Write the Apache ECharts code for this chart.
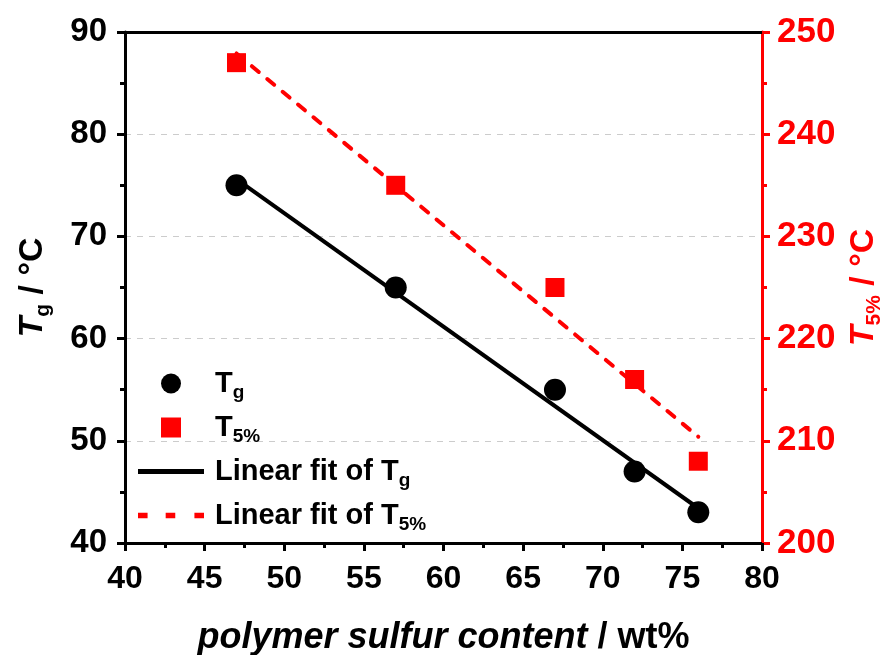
<!DOCTYPE html>
<html>
<head>
<meta charset="utf-8">
<script src="https://cdn.jsdelivr.net/npm/echarts@6/dist/echarts.min.js"></script>
<style>
  html, body { margin: 0; padding: 0; background: #fff; }
  #chart { width: 885px; height: 655px; }
</style>
</head>
<body>
<div id="chart"></div>
<script>
// Polymer sulfur content (wt%)
const sulfurContent = [47, 57, 67, 72, 76];
// Glass transition temperature Tg (°C)
const tgValues = [75, 65, 55, 47, 43];
// 5% weight-loss temperature T5% (°C)
const t5Values = [247, 235, 225, 216, 208];
// Linear fit end points (x, y)
const tgFitX = [47, 76];
const tgFitY = [75.6, 43.4];
const t5FitX = [47, 76];
const t5FitY = [247.9, 210.4];

const FONT = '"Liberation Sans", Arial, sans-serif';
const RED = '#ff0000';

const pairs = (xs, ys) => xs.map((x, i) => [x, ys[i]]);

// Rich-text styles: bold, bold-italic and a lowered subscript
const subRich = (color, size, subSize) => ({
  b: { fontFamily: FONT, fontWeight: 'bold', fontSize: size, color: color },
  bi: { fontFamily: FONT, fontWeight: 'bold', fontStyle: 'italic', fontSize: size, color: color },
  s: { fontFamily: FONT, fontWeight: 'bold', fontSize: subSize, color: color, verticalAlign: 'bottom', padding: [0, 0, -Math.round(size * 0.13), 0] }
});

const chart = echarts.init(document.getElementById('chart'), null, { renderer: 'canvas' });

const legendNames = {
  'Tg': '{b|T}{s|g}',
  'T5%': '{b|T}{s|5%}',
  'Linear fit of Tg': '{b|Linear fit of T}{s|g}',
  'Linear fit of T5%': '{b|Linear fit of T}{s|5%}'
};

// Legend icons
const SQUARE_ICON = 'path://M0,0H10V10H0Z';
const SOLID_ICON = 'path://M0,0H66V5H0Z';
const DASH_ICON = 'path://M0,0H9V5H0Z M26,0H35V5H26Z M53,0H62V5H53Z';

chart.setOption({
  animation: false,
  backgroundColor: '#ffffff',
  grid: { left: 125, right: 123, top: 32, bottom: 112, containLabel: false, outerBoundsMode: 'none' },
  legend: {
    orient: 'vertical',
    left: 133,
    top: 364,
    itemWidth: 66,
    itemHeight: 20,
    itemGap: 11,
    symbolKeepAspect: true,
    data: [
      { name: 'Tg', icon: 'circle' },
      { name: 'T5%', icon: SQUARE_ICON, itemStyle: { color: RED } },
      { name: 'Linear fit of Tg', icon: SOLID_ICON, itemStyle: { color: '#000' } },
      { name: 'Linear fit of T5%', icon: DASH_ICON, itemStyle: { color: RED } }
    ],
    formatter: name => legendNames[name],
    textStyle: { fontFamily: FONT, fontSize: 29, fontWeight: 'bold', color: '#000', padding: [0, 0, 0, 6], rich: subRich('#000', 29, 19) }
  },
  xAxis: [{
    type: 'value',
    min: 40, max: 80, interval: 5,
    position: 'bottom',
    name: '{bi|polymer sulfur content}{b| / wt%}',
    nameLocation: 'middle',
    nameGap: 77,
    nameTextStyle: { rich: subRich('#000', 36, 22) },
    axisLine: { show: true, onZero: false, lineStyle: { color: '#000', width: 3 } },
    axisTick: { show: true, inside: false, length: 8, lineStyle: { color: '#000', width: 3 } },
    minorTick: { show: true, splitNumber: 2, length: 5, lineStyle: { color: '#000', width: 3 } },
    axisLabel: { fontFamily: FONT, fontSize: 32, fontWeight: 'bold', color: '#000', margin: 20 },
    splitLine: { show: false }
  }, {
    type: 'value',
    min: 40, max: 80, interval: 5,
    position: 'top',
    axisLine: { show: true, onZero: false, lineStyle: { color: '#000', width: 3 } },
    axisTick: { show: false },
    axisLabel: { show: false },
    splitLine: { show: false }
  }],
  yAxis: [{
    type: 'value',
    min: 40, max: 90, interval: 10,
    position: 'left',
    name: '{bi|T}{s|g}{b| / °C}',
    nameLocation: 'middle',
    nameRotate: 90,
    nameGap: 75,
    nameTextStyle: { rich: subRich('#000', 34, 21) },
    axisLine: { show: true, onZero: false, lineStyle: { color: '#000', width: 3 } },
    axisTick: { show: true, inside: false, length: 8, lineStyle: { color: '#000', width: 3 } },
    minorTick: { show: true, splitNumber: 2, length: 5, lineStyle: { color: '#000', width: 3 } },
    axisLabel: { fontFamily: FONT, fontSize: 33, fontWeight: 'bold', color: '#000', margin: 18 },
    splitLine: { show: true, showMinLine: false, showMaxLine: false, lineStyle: { color: '#cccccc', width: 1, type: [6, 6] } }
  }, {
    type: 'value',
    min: 200, max: 250, interval: 10,
    position: 'right',
    name: '{bi|T}{s|5%}{b| / °C}',
    nameLocation: 'middle',
    nameRotate: 90,
    nameGap: 85,
    nameTextStyle: { rich: subRich(RED, 34, 21) },
    axisLine: { show: true, onZero: false, lineStyle: { color: RED, width: 3 } },
    axisTick: { show: true, inside: false, length: 8, lineStyle: { color: RED, width: 3 } },
    minorTick: { show: true, splitNumber: 2, length: 5, lineStyle: { color: RED, width: 3 } },
    axisLabel: { fontFamily: FONT, fontSize: 35, fontWeight: 'bold', color: RED, margin: 15 },
    splitLine: { show: false }
  }],
  series: [{
    name: 'Tg',
    type: 'scatter',
    xAxisIndex: 0, yAxisIndex: 0,
    data: pairs(sulfurContent, tgValues),
    symbol: 'circle',
    symbolSize: 22,
    itemStyle: { color: '#000', opacity: 1 },
    z: 2
  }, {
    name: 'T5%',
    type: 'scatter',
    xAxisIndex: 0, yAxisIndex: 1,
    data: pairs(sulfurContent, t5Values),
    symbol: 'rect',
    symbolSize: 19,
    itemStyle: { color: RED, opacity: 1 },
    z: 2
  }, {
    name: 'Linear fit of Tg',
    type: 'line',
    xAxisIndex: 0, yAxisIndex: 0,
    data: pairs(tgFitX, tgFitY),
    symbol: 'none',
    lineStyle: { color: '#000', width: 4 },
    itemStyle: { color: '#000' },
    z: 3
  }, {
    name: 'Linear fit of T5%',
    type: 'line',
    xAxisIndex: 0, yAxisIndex: 1,
    data: pairs(t5FitX, t5FitY),
    symbol: 'none',
    lineStyle: { color: RED, width: 4, type: [9, 11], cap: 'round' },
    itemStyle: { color: RED },
    z: 3
  }]
});
</script>
</body>
</html>
